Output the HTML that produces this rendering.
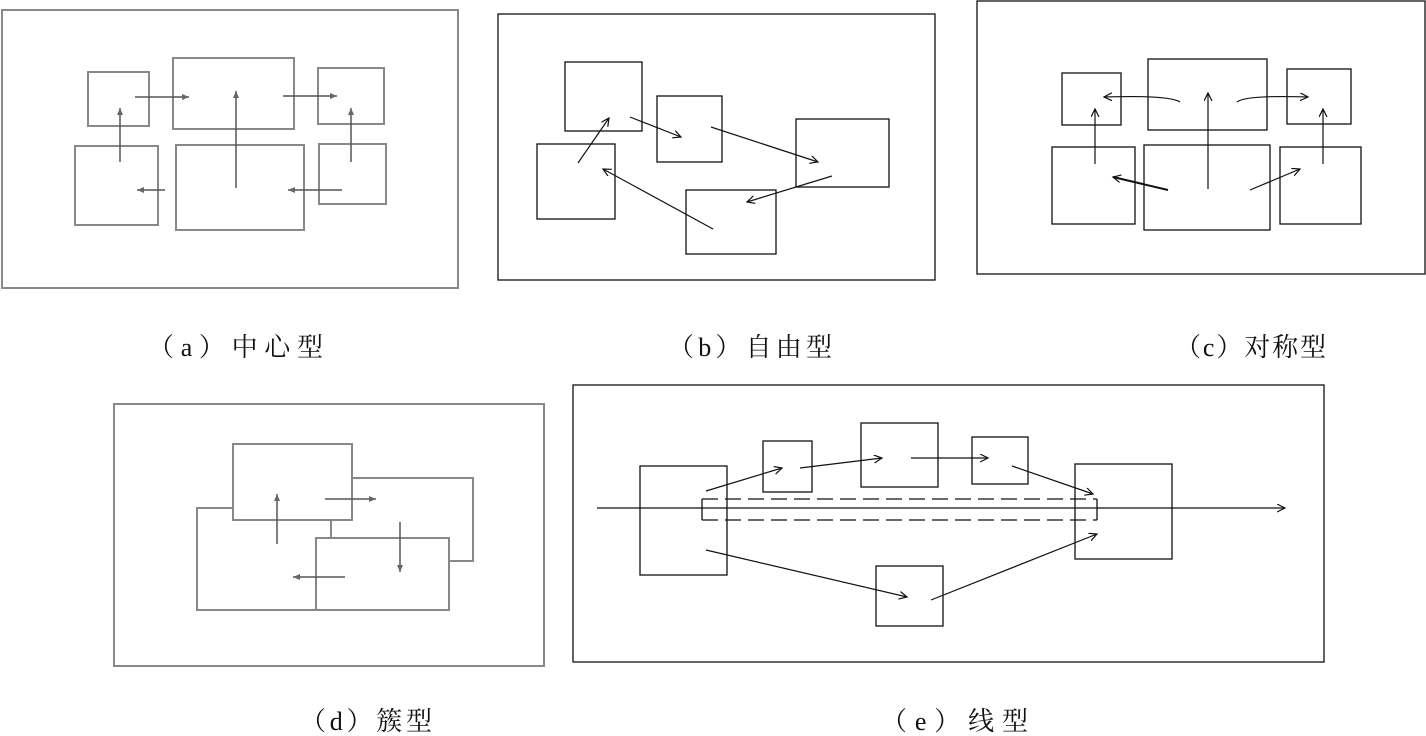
<!DOCTYPE html>
<html><head><meta charset="utf-8"><style>
html,body{margin:0;padding:0;background:#fff;}
svg{display:block}
text{font-family:"Liberation Serif","Noto Serif CJK SC","Noto Sans CJK SC",serif;font-size:26px;fill:#111}
</style></head><body>
<svg width="1426" height="736" viewBox="0 0 1426 736" xmlns="http://www.w3.org/2000/svg">
<defs>
<marker id="ag" markerWidth="8" markerHeight="8" refX="7" refY="4" orient="auto" markerUnits="userSpaceOnUse"><path d="M0,1 L7,4 L0,7 z" fill="#666"/></marker>
<marker id="ab" markerWidth="10" markerHeight="10" refX="8" refY="4" orient="auto" markerUnits="userSpaceOnUse"><path d="M0,0 L8,4 L0,8" fill="none" stroke="#111" stroke-width="1.2"/></marker>
</defs>
<!-- (a) -->
<g fill="none" stroke="#888" stroke-width="2">
<rect x="2" y="10" width="456" height="278"/>
<rect x="88" y="72" width="61" height="54"/>
<rect x="173" y="58" width="121" height="71"/>
<rect x="318" y="68" width="66" height="56"/>
<rect x="75" y="146" width="83" height="79"/>
<rect x="176" y="145" width="128" height="85"/>
<rect x="319" y="144" width="67" height="60"/>
</g>
<g stroke="#555" stroke-width="1.5" marker-end="url(#ag)">
<line x1="135" y1="97" x2="189" y2="97"/>
<line x1="283" y1="96" x2="337" y2="96"/>
<line x1="236" y1="188" x2="236" y2="91"/>
<line x1="120" y1="162" x2="120" y2="108"/>
<line x1="351" y1="162" x2="351" y2="108"/>
<line x1="165" y1="190" x2="137" y2="190"/>
<line x1="342" y1="190" x2="288" y2="190"/>
</g>
<!-- (b) -->
<g fill="none" stroke="#111" stroke-width="1.3">
<rect x="498" y="14" width="437" height="266"/>
<rect x="565" y="62" width="77" height="69"/>
<rect x="657" y="96" width="65" height="66"/>
<rect x="537" y="144" width="78" height="75"/>
<rect x="796" y="119" width="93" height="68"/>
<rect x="686" y="190" width="90" height="64"/>
</g>
<g stroke="#111" stroke-width="1.2" marker-end="url(#ab)">
<line x1="578" y1="163" x2="609" y2="118"/>
<line x1="630" y1="117" x2="681" y2="137"/>
<line x1="711" y1="127" x2="818" y2="162"/>
<line x1="832" y1="176" x2="747" y2="202"/>
<line x1="713" y1="229" x2="603" y2="169"/>
</g>
<!-- (c) -->
<g fill="none" stroke="#111" stroke-width="1.3">
<rect x="977" y="1" width="448" height="273"/>
<rect x="1062" y="73" width="59" height="52"/>
<rect x="1148" y="59" width="119" height="71"/>
<rect x="1287" y="69" width="64" height="55"/>
<rect x="1052" y="147" width="83" height="77"/>
<rect x="1144" y="145" width="126" height="85"/>
<rect x="1280" y="147" width="81" height="77"/>
</g>
<g stroke="#111" stroke-width="1.2" fill="none" marker-end="url(#ab)">
<path d="M1180,102 Q1170,95 1104,97"/>
<path d="M1237,102 Q1245,95 1308,97"/>
<line x1="1208" y1="189" x2="1208" y2="93"/>
<line x1="1095" y1="164" x2="1095" y2="109"/>
<line x1="1323" y1="164" x2="1323" y2="109"/>
<line x1="1168" y1="190" x2="1113" y2="177" stroke-width="2"/>
<line x1="1250" y1="190" x2="1300" y2="169"/>
</g>
<!-- (d) -->
<g fill="none" stroke="#888" stroke-width="2">
<rect x="114" y="404" width="430" height="262"/>
<polyline points="352,478 473,478 473,561 449,561"/>
<polyline points="233,508 197,508 197,610 316,610"/>
<line x1="331" y1="520" x2="331" y2="538"/>
<rect x="233" y="444" width="119" height="76"/>
<rect x="316" y="538" width="133" height="72"/>
</g>
<g stroke="#555" stroke-width="1.5" marker-end="url(#ag)">
<line x1="277" y1="544" x2="277" y2="494"/>
<line x1="325" y1="499" x2="376" y2="499"/>
<line x1="400" y1="522" x2="400" y2="572"/>
<line x1="345" y1="577" x2="293" y2="577"/>
</g>
<!-- (e) -->
<g fill="none" stroke="#111" stroke-width="1.3">
<rect x="573" y="385" width="751" height="277"/>
<rect x="640" y="466" width="87" height="109"/>
<rect x="763" y="441" width="49" height="51"/>
<rect x="861" y="423" width="77" height="64"/>
<rect x="972" y="437" width="56" height="47"/>
<rect x="1075" y="464" width="97" height="95"/>
<rect x="876" y="566" width="67" height="60"/>
<line x1="702" y1="499" x2="702" y2="520"/>
<line x1="1097" y1="499" x2="1097" y2="520"/>
<line x1="702" y1="499" x2="1097" y2="499" stroke-dasharray="16,7"/>
<line x1="702" y1="520" x2="1097" y2="520" stroke-dasharray="16,7"/>
</g>
<g stroke="#111" stroke-width="1.2" marker-end="url(#ab)">
<line x1="597" y1="508" x2="1285" y2="508"/>
<line x1="706" y1="491" x2="782" y2="468"/>
<line x1="800" y1="468" x2="882" y2="458"/>
<line x1="911" y1="458" x2="988" y2="458"/>
<line x1="1012" y1="466" x2="1093" y2="494"/>
<line x1="706" y1="550" x2="907" y2="597"/>
<line x1="931" y1="600" x2="1097" y2="534"/>
</g>
<!-- labels -->
<text x="148" y="356" textLength="175" lengthAdjust="spacing">（a）中心型</text>
<text x="668" y="356" textLength="164" lengthAdjust="spacing">（b）自由型</text>
<text x="1175" y="356" textLength="151" lengthAdjust="spacing">（c）对称型</text>
<text x="300" y="730" textLength="132" lengthAdjust="spacing">（d）簇型</text>
<text x="881" y="730" textLength="147" lengthAdjust="spacing">（e）线型</text>
</svg>
</body></html>
